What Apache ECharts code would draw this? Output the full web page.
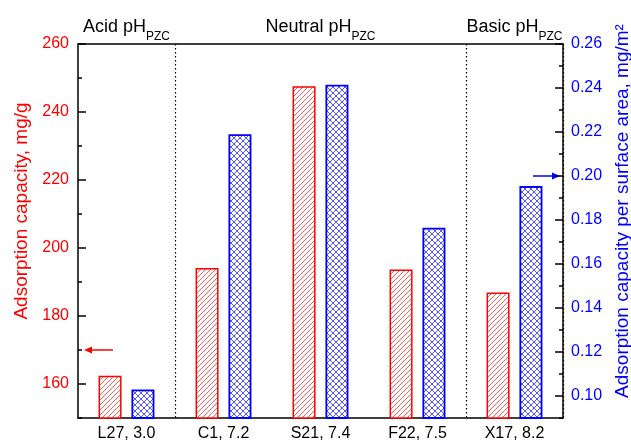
<!DOCTYPE html>
<html><head><meta charset="utf-8">
<script src="https://cdn.jsdelivr.net/npm/echarts@6/dist/echarts.min.js"></script>
<style>html,body{margin:0;padding:0;background:#fff}#c{width:631px;height:441px}</style>
</head><body><div id="c"></div>
<script>
// ---- data ----
const categories = ['L27, 3.0', 'C1, 7.2', 'S21, 7.4', 'F22, 7.5', 'X17, 8.2'];
const groupNames = ['Acid', '', 'Neutral', '', 'Basic'];
const capacityMgG = [162.4, 194.1, 247.6, 193.7, 186.9];
const capacityPerArea = [0.103, 0.219, 0.2415, 0.1765, 0.1954];
const leftTicks = [160, 180, 200, 220, 240, 260];
const leftMinorTicks = [150, 170, 190, 210, 230, 250];
const rightTicks = [0.10, 0.12, 0.14, 0.16, 0.18, 0.20, 0.22, 0.24, 0.26];
const rightMinorTicks = [0.09, 0.11, 0.13, 0.15, 0.17, 0.19, 0.21, 0.23, 0.25];
const dividerIndices = [1, 4];
const leftArrowValue = 170;
const rightArrowValue = 0.20;

const FONT = 'Liberation Sans, Arial, sans-serif';
const RED = '#ff0000', BLUE = '#0000ff';

function hatch(size, color, cross) {
  const c = document.createElement('canvas');
  c.width = c.height = size;
  const g = c.getContext('2d');
  g.fillStyle = '#ffffff'; g.fillRect(0, 0, size, size);
  g.strokeStyle = color; g.lineWidth = 1;
  g.beginPath();
  g.moveTo(-1, size + 1); g.lineTo(size + 1, -1);
  g.moveTo(-1, 1); g.lineTo(1, -1);
  g.moveTo(size - 1, size + 1); g.lineTo(size + 1, size - 1);
  if (cross) {
    g.moveTo(-1, -1); g.lineTo(size + 1, size + 1);
    g.moveTo(size - 1, -1); g.lineTo(size + 1, 1);
    g.moveTo(-1, size - 1); g.lineTo(1, size + 1);
  }
  g.stroke();
  return c;
}

const chart = echarts.init(document.getElementById('c'), null, {renderer: 'canvas'});
const GL = 78, GR = 68, GT = 44, GB = 23;
chart.setOption({
  animation: false,
  backgroundColor: '#ffffff',
  textStyle: {fontFamily: FONT},
  grid: {left: GL, right: GR, top: GT, bottom: GB, outerBoundsMode: 'none', containLabel: false},
  xAxis: [
    {
      type: 'category', data: categories, position: 'bottom',
      axisLine: {lineStyle: {color: '#000', width: 1.5}},
      axisTick: {show: false},
      axisLabel: {color: '#000', fontSize: 16, margin: 8, fontFamily: FONT, interval: 0},
      splitLine: {show: true, interval: (i) => dividerIndices.includes(i),
        lineStyle: {color: '#000', width: 1.2, type: [1.5, 2.5]}}
    },
    {
      type: 'category', data: groupNames, position: 'top',
      axisLine: {lineStyle: {color: '#000', width: 1.5}},
      axisTick: {show: false},
      axisLabel: {
        interval: 0, margin: 4,
        formatter: (v) => v ? `{m|${v} pH}{s|PZC}` : '',
        rich: {
          m: {fontSize: 18, height: 18, lineHeight: 22, verticalAlign: 'top', color: '#000', fontFamily: FONT},
          s: {fontSize: 12, height: 6, lineHeight: 22, verticalAlign: 'bottom', color: '#000', fontFamily: FONT}
        }
      }
    }
  ],
  yAxis: [
    {
      type: 'value', position: 'left', min: 150, max: 260,
      name: 'Adsorption capacity, mg/g', nameLocation: 'middle', nameRotate: 90, nameGap: 45,
      nameTextStyle: {color: RED, fontSize: 19, fontFamily: FONT, padding: [0, 0, 0, 40]},
      axisLine: {show: true, lineStyle: {color: '#000', width: 1.5}},
      axisTick: {show: true, inside: true, length: 8, customValues: leftTicks, lineStyle: {color: '#000', width: 1.5}},
      axisLabel: {customValues: leftTicks, color: RED, fontSize: 16, margin: 9, fontFamily: FONT},
      splitLine: {show: false}
    },
    {
      type: 'value', position: 'right', min: 0.09, max: 0.26,
      name: 'Adsorption capacity per surface area, mg/m²', nameLocation: 'middle', nameRotate: 90, nameGap: 49,
      nameTextStyle: {color: BLUE, fontSize: 19, fontFamily: FONT, padding: [0, 0, 0, 40]},
      axisLine: {show: true, lineStyle: {color: '#000', width: 1.5}},
      axisTick: {show: true, inside: true, length: 8, customValues: rightTicks, lineStyle: {color: '#000', width: 1.5}},
      axisLabel: {customValues: rightTicks, color: BLUE, fontSize: 16, margin: 8, fontFamily: FONT,
        formatter: (v) => Number(v).toFixed(2)},
      splitLine: {show: false}
    },
    {
      type: 'value', position: 'left', min: 150, max: 260,
      axisLine: {show: false},
      axisTick: {show: true, inside: true, length: 4, customValues: leftMinorTicks, lineStyle: {color: '#000', width: 1.5}},
      axisLabel: {show: false}, splitLine: {show: false}
    },
    {
      type: 'value', position: 'right', min: 0.09, max: 0.26,
      axisLine: {show: false},
      axisTick: {show: true, inside: true, length: 4, customValues: rightMinorTicks, lineStyle: {color: '#000', width: 1.5}},
      axisLabel: {show: false}, splitLine: {show: false}
    }
  ],
  series: [
    {
      type: 'bar', name: 'Adsorption capacity', data: capacityMgG, xAxisIndex: 0, yAxisIndex: 0,
      barWidth: 23, barGap: '43%',
      itemStyle: {color: {image: hatch(5, '#ff5a5a', false), repeat: 'repeat'}, borderColor: RED, borderWidth: 1.5},
      emphasis: {disabled: true}
    },
    {
      type: 'bar', name: 'Per surface area', data: capacityPerArea, xAxisIndex: 0, yAxisIndex: 1,
      barWidth: 23,
      itemStyle: {color: {image: hatch(6, '#5555ff', true), repeat: 'repeat'}, borderColor: BLUE, borderWidth: 1.8},
      emphasis: {disabled: true}
    }
  ]
});

const yL = chart.convertToPixel({yAxisIndex: 0}, leftArrowValue);
const yR = chart.convertToPixel({yAxisIndex: 1}, rightArrowValue);
const xL = GL, xR = 631 - GR;
chart.setOption({
  graphic: [
    {type: 'line', shape: {x1: xL + 35, y1: yL, x2: xL + 12, y2: yL}, style: {stroke: RED, lineWidth: 1.5}},
    {type: 'polygon', shape: {points: [[xL + 6, yL], [xL + 14, yL - 3.5], [xL + 14, yL + 3.5]]}, style: {fill: RED}},
    {type: 'line', shape: {x1: xR - 30, y1: yR, x2: xR - 9, y2: yR}, style: {stroke: BLUE, lineWidth: 1.5}},
    {type: 'polygon', shape: {points: [[xR - 3, yR], [xR - 11, yR - 3.5], [xR - 11, yR + 3.5]]}, style: {fill: BLUE}}
  ]
});
</script>
</body></html>
